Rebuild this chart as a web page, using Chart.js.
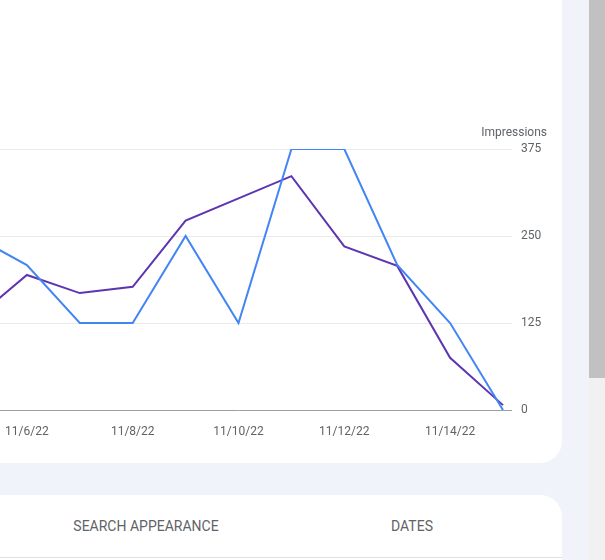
<!DOCTYPE html>
<html>
<head>
<meta charset="utf-8">
<script src="https://cdn.jsdelivr.net/npm/chart.js@4"></script>
<style>
  body { margin:0; width:605px; height:560px; overflow:hidden; background:#f0f3fa; position:relative; font-family:Roboto, sans-serif; }
  .card { position:absolute; background:#fff; }
  #card1 { left:-30px; top:-20px; width:592px; height:483px; border-radius:22px; }
  #card2 { left:-30px; top:495px; width:592px; height:100px; border-radius:22px 22px 0 0; }
  #chartBox { position:absolute; left:-41px; top:101px; width:603px; height:360px; }
  #imprTitle { position:absolute; right:58px; top:125px; font-size:12px; line-height:14px; color:#5f6368; }
  .tab { position:absolute; top:526px; transform:translate(-50%,-50%); font-size:14px; color:#5f6368; white-space:nowrap; }
  #tabLine { position:absolute; left:0; top:557px; width:562px; height:1px; background:#e0e0e0; }
  #track { position:absolute; left:589px; top:0; width:16px; height:560px; background:#f1f1f1; }
  #thumb { position:absolute; left:589px; top:0; width:16px; height:378px; background:#c1c1c1; }
</style>
</head>
<body>
<div class="card" id="card1"></div>
<div id="chartBox"><canvas id="perfChart"></canvas></div>
<div id="imprTitle">Impressions</div>
<div class="card" id="card2"></div>
<div class="tab" style="left:146px">SEARCH APPEARANCE</div>
<div class="tab" style="left:412px">DATES</div>
<div id="tabLine"></div>
<div id="track"></div>
<div id="thumb"></div>
<script>
// dates shown on the x axis (only every second one gets a label)
var dates = ['11/5/22', '11/6/22', '11/7/22', '11/8/22', '11/9/22', '11/10/22', '11/11/22', '11/12/22', '11/13/22', '11/14/22', '11/15/22'];
var clicks = [6, 5, 3, 3, 6, 3, 9, 9, 5, 3, 0];
var impressions = [130, 194, 168, 177, 272, 304, 336, 235, 207, 75, 7];
var impressionTicks = [0, 125, 250, 375];

Chart.defaults.font.family = 'Roboto';
Chart.defaults.font.size = 12;
Chart.defaults.color = '#5f6368';

var ctx = document.getElementById('perfChart').getContext('2d');
var perfChart = new Chart(ctx, {
     type: 'line',
     data: {
          labels: dates,
          datasets: [{
               label: 'Clicks',
               data: clicks,
               yAxisID: 'yClicks',
               borderColor: '#4285f4',
               borderWidth: 2,
               pointRadius: 0,
               tension: 0
          }, {
               label: 'Impressions',
               data: impressions,
               yAxisID: 'yImpr',
               borderColor: '#5e35b1',
               borderWidth: 2,
               pointRadius: 0,
               tension: 0
          }]
     },
     options: {
          responsive: true,
          maintainAspectRatio: false,
          animation: false,
          layout: { padding: { top: 48, right: 21, bottom: 11, left: 0 } },
          plugins: { legend: { display: false }, tooltip: { enabled: false } },
          scales: {
               x: {
                    grid: { display: false, drawTicks: false },
                    border: { display: false },
                    ticks: {
                         autoSkip: false,
                         maxRotation: 0,
                         padding: 15,
                         callback: function (val, i) { return i % 2 === 1 ? dates[i] : ''; }
                    },
                    afterFit: function (scale) { scale.height = 40; }
               },
               yClicks: {
                    position: 'left',
                    display: false,
                    min: 0,
                    max: 9
               },
               yImpr: {
                    position: 'right',
                    min: 0,
                    max: 375,
                    afterBuildTicks: function (scale) {
                         scale.ticks = impressionTicks.map(function (v) { return { value: v }; });
                    },
                    grid: {
                         tickLength: 9,
                         color: function (c) { return c.tick && c.tick.value === 0 ? '#9aa0a6' : '#ebebeb'; }
                    },
                    border: { display: false },
                    ticks: { padding: 9 },
                    afterFit: function (scale) { scale.width = 38; }
               }
          }
     }
});
</script>
</body>
</html>
